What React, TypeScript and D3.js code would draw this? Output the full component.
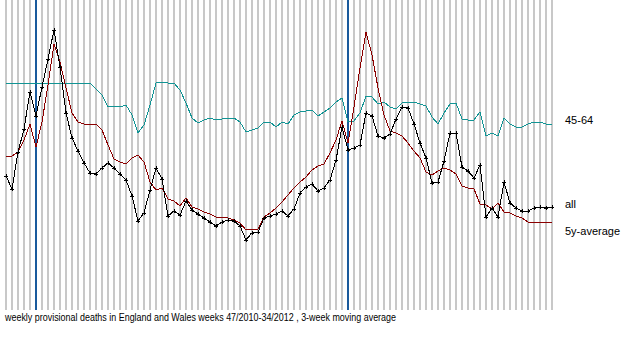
import * as d3 from 'd3';

const W = 640;
const H = 350;

// week labels 47/2010 .. 34/2012
const weeks: string[] = [
  ...d3.range(47, 53).map(w => `${w}/2010`),
  ...d3.range(1, 53).map(w => `${w}/2011`),
  ...d3.range(1, 35).map(w => `${w}/2012`),
];
const yearEnds = ['52/2010', '52/2011'];

// relative levels (no axis in the original)
const allAges = [
  134, 121, 158, 181, 218, 194, 223, 251, 280, 243, 197, 172, 159, 147, 137, 136, 142, 147, 142, 136,
  130, 114, 89, 97, 120, 142, 131, 94, 99, 95, 109, 100, 96, 92, 88, 84, 88, 90, 89, 84,
  70, 77, 78, 92, 94, 96, 99, 94, 101, 117, 123, 126, 119, 122, 130, 150, 183, 160, 162, 165,
  197, 194, 174, 172, 176, 191, 203, 202, 186, 167, 152, 127, 128, 149, 177, 177, 143, 139, 132, 145,
  93, 102, 93, 128, 107, 102, 99, 99, 102, 103, 102, 103,
];
const fiveYearAvg = [
  153, 154, 158, 170, 186, 163, 188, 225, 266, 248, 222, 197, 188, 186, 186, 186, 180, 165, 151, 148,
  146, 152, 155, 148, 128, 120, 122, 111, 109, 104, 112, 103, 101, 98, 96, 93, 93, 92, 90, 87,
  80, 81, 81, 93, 97, 102, 108, 115, 122, 128, 133, 140, 144, 146, 157, 170, 189, 167, 203, 242,
  278, 255, 222, 195, 179, 177, 174, 167, 159, 152, 138, 135, 139, 142, 140, 136, 124, 122, 121, 106,
  105, 101, 107, 98, 97, 94, 92, 88, 87, 88, 88, 88,
];
const ages45to64 = [
  227, 227, 227, 227, 227, 227, 227, 227, 227, 227, 227, 227, 227, 227, 227, 221, 215, 203, 204, 203,
  205, 195, 177, 185, 205, 227, 228, 227, 227, 220, 207, 192, 187, 190, 192, 190, 191, 192, 192, 188,
  178, 180, 182, 188, 188, 183, 188, 186, 195, 198, 199, 200, 194, 198, 202, 208, 212, 188, 189, 197,
  214, 213, 206, 208, 203, 201, 207, 208, 208, 206, 204, 193, 186, 197, 206, 207, 191, 190, 190, 198,
  174, 177, 174, 192, 186, 183, 183, 186, 188, 188, 186, 185,
];

const caption =
  'weekly provisional deaths in England and Wales weeks 47/2010-34/2012 , 3-week moving average';

const FONT = '"Liberation Sans", Arial, sans-serif';

export default function App() {
  const x = d3.scaleLinear().domain([0, weeks.length - 1]).range([6, 552]);
  const y = d3.scaleLinear().domain([0, 310]).range([310, 0]);

  const line = d3
    .line<number>()
    .x((_, i) => x(i))
    .y(d => y(d));

  const series = [
    { name: '45-64', values: ages45to64, color: '#119494', labelY: 124 },
    { name: '5y-average', values: fiveYearAvg, color: '#8b0000', labelY: 235 },
    { name: 'all', values: allAges, color: '#000000', labelY: 208 },
  ];

  return (
    <svg
      width={W}
      height={H}
      style={{ position: 'absolute', left: 0, top: 0, background: '#fff' }}
      fontFamily={FONT}
    >
      {/* week grid */}
      {weeks.map((w, i) => (
        <line
          key={w}
          x1={x(i)}
          x2={x(i)}
          y1={0}
          y2={310}
          stroke={yearEnds.includes(w) ? '#1a5a9c' : '#c8c8c8'}
          strokeWidth={2}
          shapeRendering="crispEdges"
        />
      ))}

      {series.map(s => (
        <path
          key={s.name}
          d={line(s.values) ?? ''}
          fill="none"
          stroke={s.color}
          strokeWidth={1}
          shapeRendering="crispEdges"
        />
      ))}

      {/* point markers on "all" */}
      {allAges.map((d, i) => (
        <path
          key={i}
          d={`M${x(i) - 2},${y(d)}h4M${x(i)},${y(d) - 2}v4`}
          stroke="#000"
          strokeWidth={1}
          shapeRendering="crispEdges"
        />
      ))}

      {series.map(s => (
        <text key={s.name} x={565} y={s.labelY} fontSize={11} fill="#000">
          {s.name}
        </text>
      ))}

      <text
        x={5}
        y={321}
        fontSize={10.5}
        fill="#000"
        textLength={391}
        lengthAdjust="spacingAndGlyphs"
      >
        {caption}
      </text>
    </svg>
  );
}
